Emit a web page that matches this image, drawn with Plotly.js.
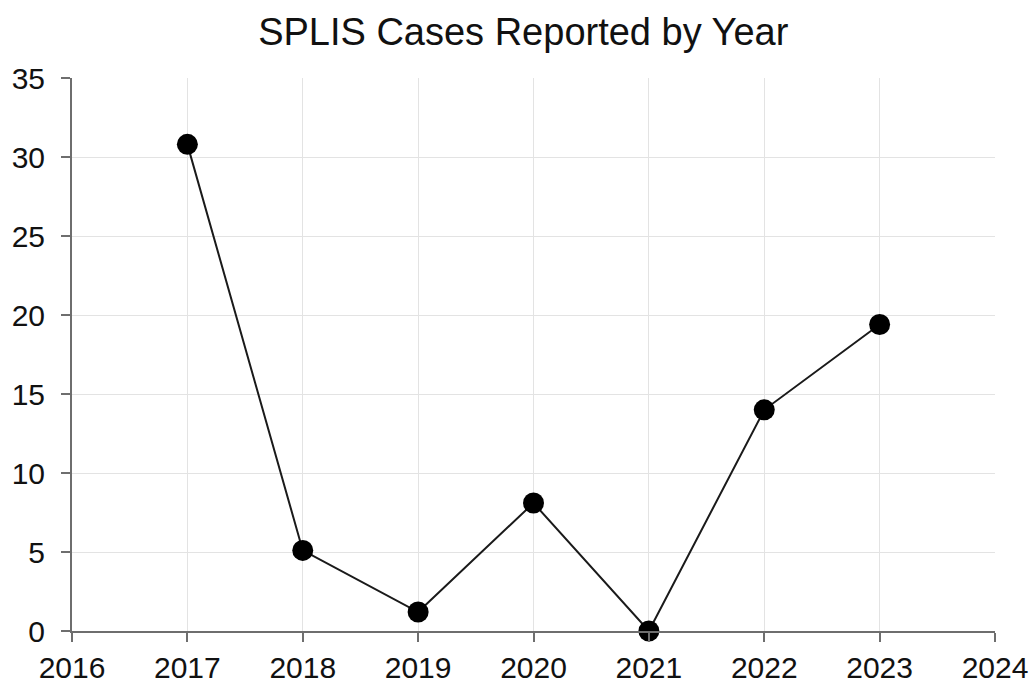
<!DOCTYPE html>
<html><head><meta charset="utf-8">
<script src="https://cdn.plot.ly/plotly-3.0.1.min.js"></script>
<style>html,body{margin:0;padding:0;background:#fff}#chart{width:1030px;height:683px}</style>
</head><body><div id="chart"></div>
<script>
const years = [2017, 2018, 2019, 2020, 2021, 2022, 2023];
const cases = [30.8, 5.1, 1.2, 8.1, 0, 14.0, 19.4];
const xTicks = [2016, 2017, 2018, 2019, 2020, 2021, 2022, 2023, 2024];
const yTicks = [0, 5, 10, 15, 20, 25, 30, 35];

const trace = {
  x: years, y: cases, type: 'scatter', mode: 'lines+markers',
  line: {color: '#1a1a1a', width: 2},
  marker: {color: '#000', size: 21},
  cliponaxis: false, hoverinfo: 'skip'
};
const font = {family: 'Liberation Sans, Arial, sans-serif', color: '#111'};
const layout = {
  width: 1030, height: 683,
  margin: {l: 72, r: 35, t: 78, b: 52},
  paper_bgcolor: '#fff', plot_bgcolor: '#fff',
  showlegend: false,
  font: font,
  title: {text: 'SPLIS Cases Reported by Year', font: {size: 38, family: font.family, color: '#111'}, x: 0.508, xanchor: 'center', y: 0.953, yanchor: 'middle'},
  xaxis: {
    range: [2016, 2024], tickvals: xTicks, ticktext: xTicks.map(String),
    showgrid: true, gridcolor: '#e3e3e3', gridwidth: 1,
    showline: true, linecolor: '#6e6e6e', linewidth: 2,
    ticks: 'outside', ticklen: 9, tickcolor: '#6e6e6e', tickwidth: 2,
    tickfont: {size: 30, family: font.family, color: '#111'}, zeroline: false
  },
  yaxis: {
    range: [0, 35], tickvals: yTicks, ticktext: yTicks.map(String),
    showgrid: true, gridcolor: '#e3e3e3', gridwidth: 1,
    showline: true, linecolor: '#6e6e6e', linewidth: 2,
    ticks: 'outside', ticklen: 9, tickcolor: '#6e6e6e', tickwidth: 2,
    ticklabelstandoff: 10,
    tickfont: {size: 30, family: font.family, color: '#111'}, zeroline: false
  }
};
Plotly.newPlot('chart', [trace], layout, {displayModeBar: false, staticPlot: true});
</script></body></html>
